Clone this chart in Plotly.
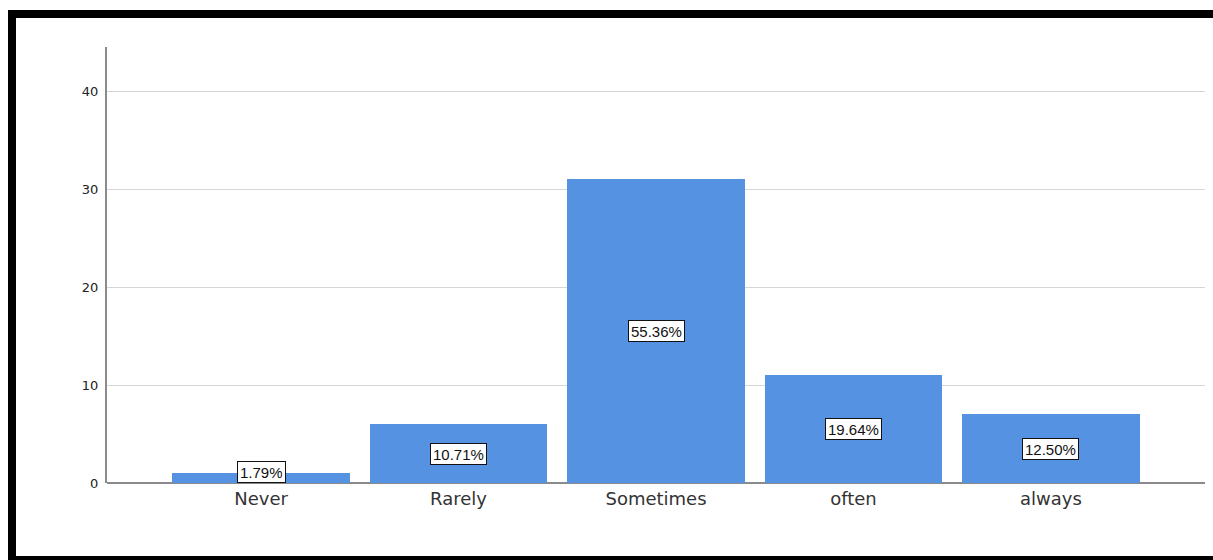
import plotly.graph_objects as go

categories = ["Never", "Rarely", "Sometimes", "often", "always"]
counts = [1, 6, 31, 11, 7]
pct_labels = ["1.79%", "10.71%", "55.36%", "19.64%", "12.50%"]
y_ticks = [0, 10, 20, 30, 40]

W, H = 1213, 560
L, R, T, B = 107, 8, 47, 77
PW, PH = W - L - R, H - T - B

def px(x):
    return (x - L) / PW

def py(y):
    return (H - B - y) / PH

fig = go.Figure()
fig.add_trace(go.Bar(
    x=list(range(len(categories))), y=counts, width=0.9,
    marker=dict(color="#5593e2", line=dict(width=0)),
    hoverinfo="skip",
))

for i, (c, lab) in enumerate(zip(counts, pct_labels)):
    fig.add_annotation(
        x=i, y=max(c / 2, 1.15), text=lab, showarrow=False,
        font=dict(family="Liberation Sans, Arial", size=15, color="#111"),
        bgcolor="white", bordercolor="#111", borderwidth=1, borderpad=2,
        height=16,
    )

# black frame
black = "#000000"
fig.add_shape(type="rect", xref="paper", yref="paper", x0=px(8), x1=px(1213), y0=py(18), y1=py(10),
              fillcolor=black, line=dict(width=0), layer="above")
fig.add_shape(type="rect", xref="paper", yref="paper", x0=px(8), x1=px(16), y0=py(560), y1=py(10),
              fillcolor=black, line=dict(width=0), layer="above")
fig.add_shape(type="rect", xref="paper", yref="paper", x0=px(8), x1=px(1213), y0=py(560), y1=py(556),
              fillcolor=black, line=dict(width=0), layer="above")

fig.update_layout(
    width=W, height=H,
    margin=dict(l=L, r=R, t=T, b=B, pad=0),
    paper_bgcolor="white", plot_bgcolor="white",
    showlegend=False, bargap=0,
    font=dict(family="DejaVu Sans", color="#222"),
)
fig.update_xaxes(
    tickmode="array", tickvals=list(range(len(categories))), ticktext=categories,
    range=[-0.78, 4.78], showgrid=False, zeroline=False,
    showline=False, ticks="", ticklabelstandoff=3,
    tickfont=dict(family="DejaVu Sans", size=18, color="#333"),
)
fig.update_yaxes(
    range=[0, 44.5], tickmode="array", tickvals=y_ticks,
    showgrid=True, gridcolor="#d6d6d6", gridwidth=1,
    zeroline=True, zerolinecolor="#8a8a8a", zerolinewidth=2,
    showline=True, linecolor="#8a8a8a", linewidth=2,
    ticks="", ticklabelstandoff=4,
    tickfont=dict(family="DejaVu Sans", size=13, color="#222"),
)

fig.write_html("out.html")
